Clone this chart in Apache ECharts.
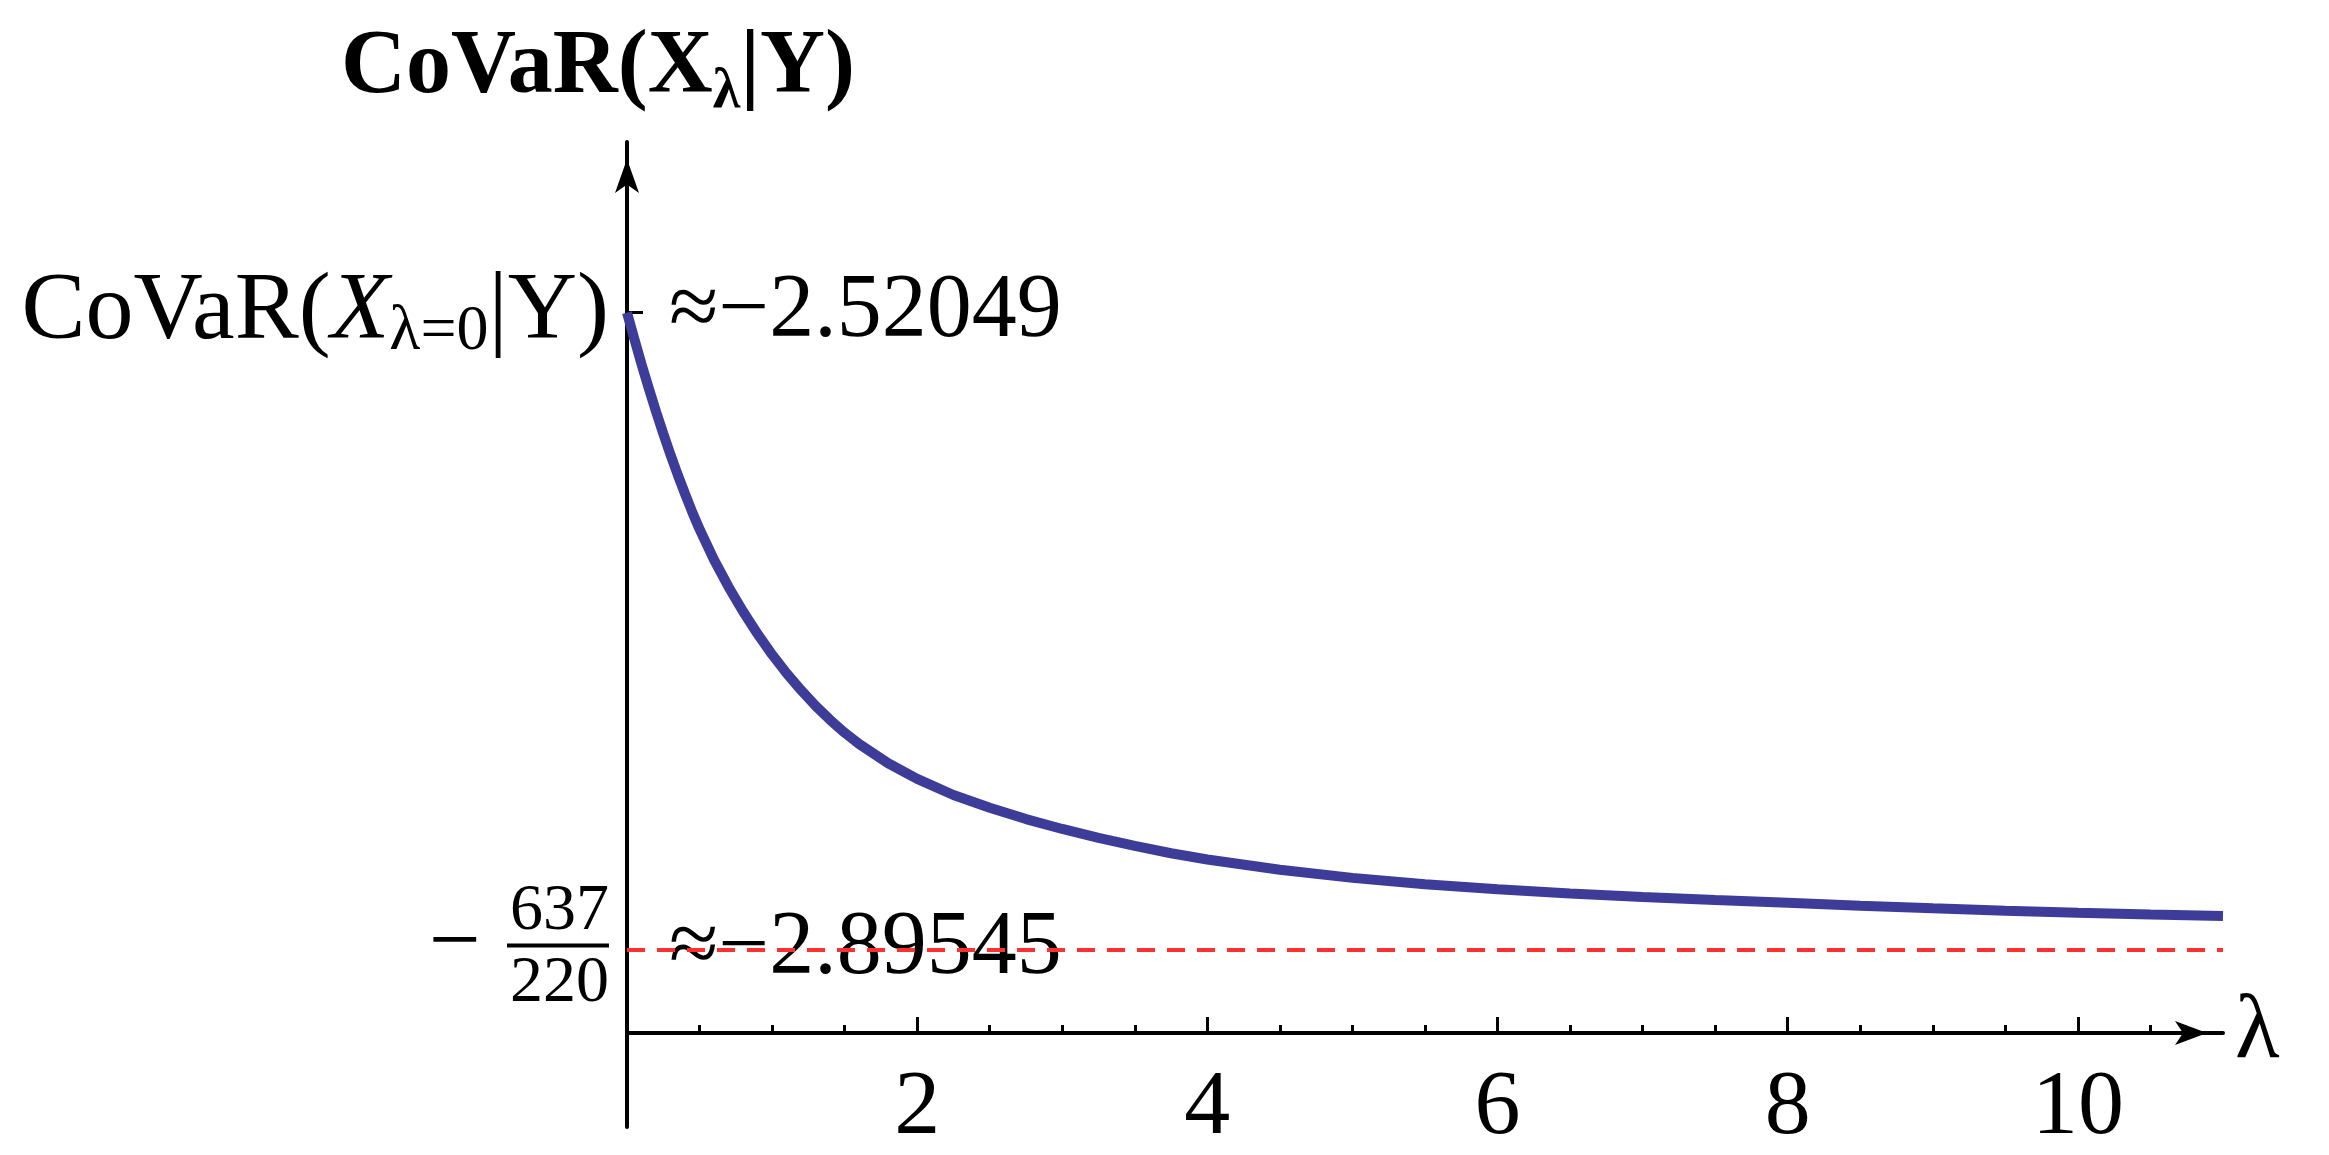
<!DOCTYPE html>
<html><head><meta charset="utf-8">
<script src="https://cdn.jsdelivr.net/npm/echarts@6/dist/echarts.min.js"></script>
<style>html,body{margin:0;padding:0;background:#fff}#c{width:2329px;height:1155px}</style>
</head><body><div id="c"></div>
<script>
// ---- data ----
const LAMBDA = [0,0.05,0.1,0.15,0.2,0.25,0.3,0.35,0.4,0.45,0.5,0.6,0.7,0.8,0.9,1.0,1.1,1.2,1.3,1.4,1.5,1.6,1.8,2.0,2.25,2.5,2.75,3.0,3.25,3.5,3.75,4.0,4.5,5.0,5.5,6.0,6.5,7.0,7.5,8.0,8.5,9.0,9.5,10.0,10.5,11.0];
const COVAR = [-2.52049,-2.5358,-2.5508,-2.5650,-2.5787,-2.5917,-2.6042,-2.6160,-2.6272,-2.6380,-2.6480,-2.6660,-2.6820,-2.6965,-2.7097,-2.7218,-2.7328,-2.7428,-2.7520,-2.7603,-2.7678,-2.7745,-2.7858,-2.7950,-2.8045,-2.8120,-2.8187,-2.8245,-2.8298,-2.8345,-2.8388,-2.8425,-2.8485,-2.8533,-2.8570,-2.8600,-2.8625,-2.8645,-2.8663,-2.8680,-2.8697,-2.8712,-2.8726,-2.8738,-2.8749,-2.8758];
const START_VALUE = -2.52049;
const LIMIT_VALUE = -2.89545;   // -637/220
const START_TEXT = '≈−2.52049';
const LIMIT_TEXT = '≈−2.89545';
const X_TICKS = [2,4,6,8,10];
const X_MINOR_TICKS = [0.5,1,1.5,2.5,3,3.5,4.5,5,5.5,6.5,7,7.5,8.5,9,9.5,10.5];
const Y_TICKS = [LIMIT_VALUE, START_VALUE];

const FONT = "'Liberation Serif','Times New Roman',serif";
const chart = echarts.init(document.getElementById('c'), null, {renderer:'canvas', width:2329, height:1155});
const pairs = LAMBDA.map((x,i)=>[x, COVAR[i]]);
const near = (a,b)=>Math.abs(a-b)<1e-6;

const option = {
  animation:false,
  backgroundColor:'#fff',
  grid:[
    {left:627, right:106, top:142, bottom:28, outerBoundsMode:'none', containLabel:false},
    {left:627, right:106, top:142, bottom:122, outerBoundsMode:'none', containLabel:false}
  ],
  xAxis:[
    {gridIndex:0, type:'value', min:0, max:11, show:false},
    {gridIndex:1, type:'value', min:0, max:11, position:'bottom',
      axisLine:{show:true, onZero:false, symbol:['none','arrow'], symbolSize:[18,32], symbolOffset:[0,-16], lineStyle:{color:'#000', width:4}},
      axisTick:{show:true, inside:true, length:16, customValues:X_TICKS, lineStyle:{color:'#000', width:3}},
      axisLabel:{show:true, customValues:X_TICKS, margin:30, fontFamily:FONT, fontSize:92, color:'#000'},
      splitLine:{show:false},
      name:'λ', nameLocation:'end', nameGap:12,
      nameTextStyle:{fontFamily:FONT, fontSize:92, color:'#000', verticalAlign:'middle', align:'left', padding:[40,0,0,0]}},
    {gridIndex:1, type:'value', min:0, max:11, position:'bottom',
      axisLine:{show:false},
      axisTick:{show:true, inside:true, length:8, customValues:X_MINOR_TICKS, lineStyle:{color:'#000', width:3}},
      axisLabel:{show:false}, splitLine:{show:false}}
  ],
  yAxis:[
    {gridIndex:0, type:'value', min:-3, max:-2.42, position:'left',
      axisLine:{show:true, onZero:false, symbol:['none','arrow'], symbolSize:[18,34], symbolOffset:[0,-17], lineStyle:{color:'#000', width:4}},
      axisTick:{show:true, inside:true, length:16, customValues:Y_TICKS, lineStyle:{color:'#000', width:3}},
      axisLabel:{show:true, customValues:Y_TICKS, margin:18, color:'#000', fontFamily:FONT,
        formatter:function(v){
          if (near(v, START_VALUE)) return '{r|CoVaR(}{i|X}{sub|λ=0}{r||Y)}';
          return '{num|637}\n{m|−}{gap|}{bar|}\n{den|220}';
        },
        rich:{
          r:{fontFamily:FONT, fontSize:96, lineHeight:104, color:'#000', verticalAlign:'middle'},
          i:{fontFamily:FONT, fontSize:96, lineHeight:104, fontStyle:'italic', color:'#000', verticalAlign:'middle'},
          sub:{fontFamily:FONT, fontSize:64, lineHeight:58, color:'#000', verticalAlign:'bottom'},
          num:{fontFamily:FONT, fontSize:66, lineHeight:56, color:'#000'},
          den:{fontFamily:FONT, fontSize:66, lineHeight:64, color:'#000'},
          m:{fontFamily:FONT, fontSize:92, lineHeight:12, color:'#000'},
          gap:{width:26, height:4},
          bar:{width:102, height:4, backgroundColor:'#000'}
        }},
      splitLine:{show:false},
      name:'{b|CoVaR(X}{bs|λ}{b||Y)}', nameLocation:'end', nameGap:21,
      nameTextStyle:{padding:[0,58,0,0],
        rich:{
          b:{fontFamily:FONT, fontSize:90, fontWeight:'bold', lineHeight:104, color:'#000', verticalAlign:'middle'},
          bs:{fontFamily:FONT, fontSize:56, fontWeight:'bold', lineHeight:56, color:'#000', verticalAlign:'bottom'}
        }}},
    {gridIndex:0, type:'value', min:-3, max:-2.42, position:'left',
      axisLine:{show:false}, axisTick:{show:false}, splitLine:{show:false},
      axisLabel:{show:true, inside:true, margin:42, customValues:Y_TICKS,
        formatter:function(v){ return near(v, START_VALUE) ? START_TEXT : LIMIT_TEXT; },
        fontFamily:FONT, fontSize:90, color:'#000'}},
    {gridIndex:1, type:'value', min:-2.945, max:-2.42, show:false}
  ],
  series:[{
    type:'line', xAxisIndex:0, yAxisIndex:0, data:pairs, showSymbol:false, smooth:false,
    lineStyle:{color:'#3d3d99', width:10}, z:3,
    markLine:{silent:true, symbol:'none', precision:6, label:{show:false},
      lineStyle:{color:'#ff3030', width:4, type:[18,12]},
      data:[{yAxis:LIMIT_VALUE}]}
  }]
};
chart.setOption(option);
</script>
</body></html>
